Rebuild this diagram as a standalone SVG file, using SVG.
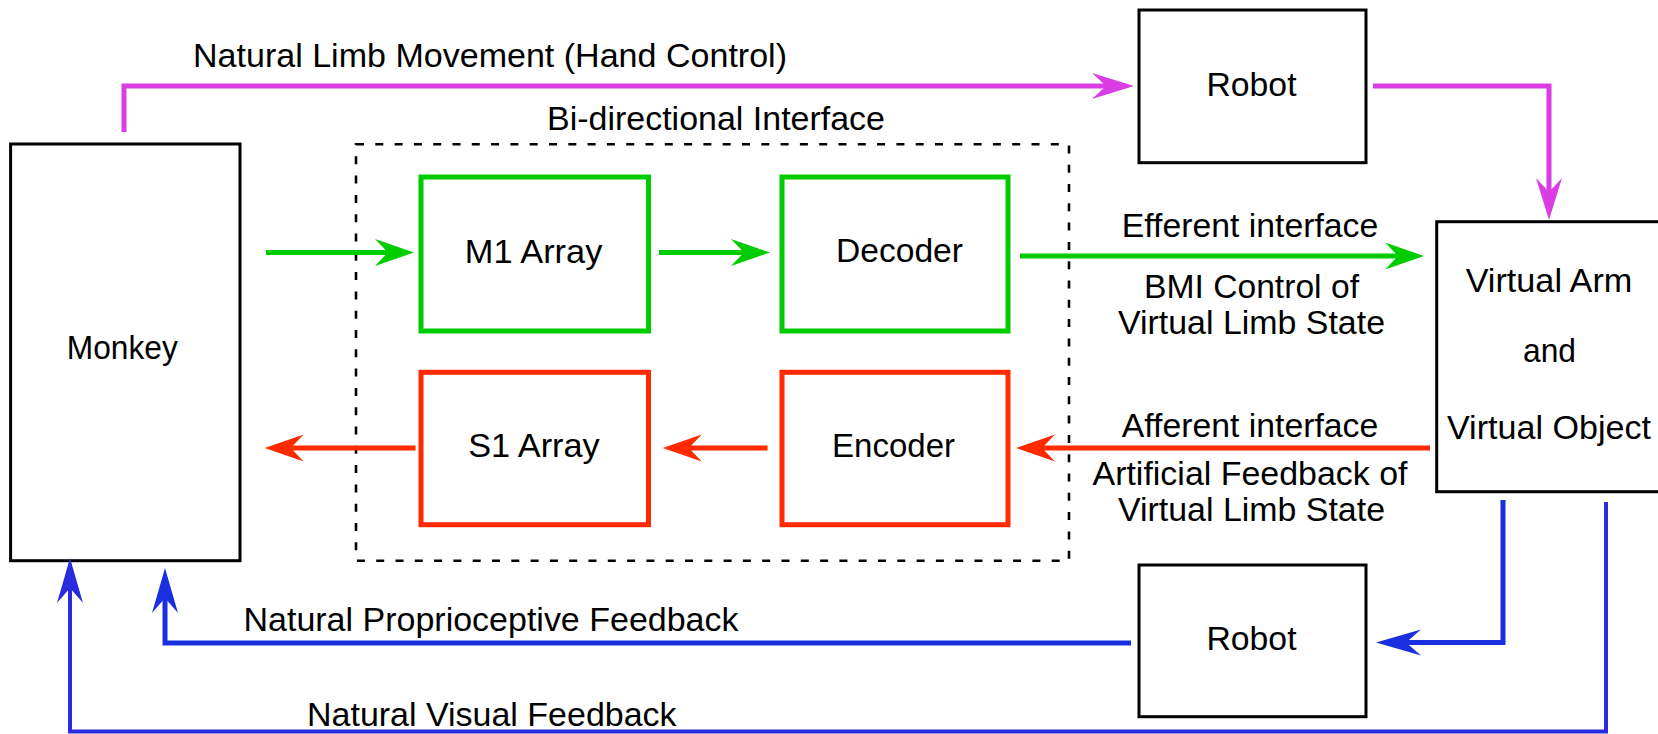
<svg xmlns="http://www.w3.org/2000/svg" width="1658" height="734" viewBox="0 0 1658 734">
<style>
text{font-family:"Liberation Sans",Arial,sans-serif;font-size:33px;fill:#000;text-anchor:middle}
.bk{fill:#fff;stroke:#000;stroke-width:3}
.gn{fill:#fff;stroke:#00cc00;stroke-width:5}
.rd{fill:#fff;stroke:#ff2a00;stroke-width:5}
.dash{fill:none;stroke:#000;stroke-width:2.6;stroke-dasharray:8 11.3}
.c{fill:none;stroke-width:5}
.g{stroke:#00cc00}.r{stroke:#ff2a00}.m{stroke:#d93de3}.b{stroke:#1a30e0}.b2{stroke:#2a2ade}
</style>
<defs>
<marker id="ag" markerUnits="userSpaceOnUse" markerWidth="42" markerHeight="30" viewBox="0 -15 42 30" refX="13" refY="0" orient="auto"><path d="M39,0 L0,-13.5 L13,0 L0,13.5 Z" fill="#00cc00"/></marker>
<marker id="ar" markerUnits="userSpaceOnUse" markerWidth="42" markerHeight="30" viewBox="0 -15 42 30" refX="13" refY="0" orient="auto"><path d="M39,0 L0,-13.5 L13,0 L0,13.5 Z" fill="#ff2a00"/></marker>
<marker id="am" markerUnits="userSpaceOnUse" markerWidth="46" markerHeight="30" viewBox="0 -15 46 30" refX="14" refY="0" orient="auto"><path d="M42,0 L0,-13 L14,0 L0,13 Z" fill="#d93de3"/></marker>
<marker id="ab" markerUnits="userSpaceOnUse" markerWidth="48" markerHeight="30" viewBox="0 -15 48 30" refX="15" refY="0" orient="auto"><path d="M45,0 L0,-13 L15,0 L0,13 Z" fill="#1a30e0"/></marker>
<marker id="ab2" markerUnits="userSpaceOnUse" markerWidth="48" markerHeight="30" viewBox="0 -15 48 30" refX="15" refY="0" orient="auto"><path d="M45,0 L0,-13 L15,0 L0,13 Z" fill="#2a2ade"/></marker>
</defs>

<g id="interface">
<rect class="dash" x="356" y="144.3" width="713" height="416.4"/>
<text x="716" y="130" textLength="338" lengthAdjust="spacingAndGlyphs">Bi-directional Interface</text>
</g>

<g id="monkey">
<rect class="bk" x="10.6" y="144" width="229.4" height="416.7"/>
<text x="122.3" y="359.3" textLength="111" lengthAdjust="spacingAndGlyphs">Monkey</text>
</g>

<g id="m1">
<rect class="gn" x="421" y="177" width="227.5" height="154"/>
<text x="533.6" y="263.3" textLength="137.6" lengthAdjust="spacingAndGlyphs">M1 Array</text>
</g>

<g id="decoder">
<rect class="gn" x="782" y="177" width="226" height="154"/>
<text x="899.5" y="262.3" textLength="127" lengthAdjust="spacingAndGlyphs">Decoder</text>
</g>

<g id="s1">
<rect class="rd" x="421" y="372.3" width="227.5" height="152.4"/>
<text x="534" y="457" textLength="131.5" lengthAdjust="spacingAndGlyphs">S1 Array</text>
</g>

<g id="encoder">
<rect class="rd" x="782" y="372.3" width="226" height="152.4"/>
<text x="893.5" y="457" textLength="123" lengthAdjust="spacingAndGlyphs">Encoder</text>
</g>

<g id="robot-top">
<rect class="bk" x="1139" y="10" width="227" height="152.7"/>
<text x="1251.5" y="95.7" textLength="90" lengthAdjust="spacingAndGlyphs">Robot</text>
</g>

<g id="robot-bottom">
<rect class="bk" x="1139" y="565" width="227" height="151.7"/>
<text x="1251.5" y="649.7" textLength="90" lengthAdjust="spacingAndGlyphs">Robot</text>
</g>

<g id="virtual">
<rect class="bk" x="1436.7" y="221.7" width="240" height="270"/>
<text x="1549" y="291.7" textLength="166.7" lengthAdjust="spacingAndGlyphs">Virtual Arm</text>
<text x="1549.5" y="361.7" textLength="53" lengthAdjust="spacingAndGlyphs">and</text>
<text x="1549" y="439" textLength="204" lengthAdjust="spacingAndGlyphs">Virtual Object</text>
</g>

<g id="connectors">
<path class="c m" d="M124,132 V86 H1106" marker-end="url(#am)"/>
<path class="c m" d="M1373,86 H1549 V192" marker-end="url(#am)"/>
<path class="c g" d="M266,252.5 H388" marker-end="url(#ag)"/>
<path class="c g" d="M659,252.5 H744" marker-end="url(#ag)"/>
<path class="c g" d="M1020,256 H1398" marker-end="url(#ag)"/>
<path class="c r" d="M415.6,448 H290.7" marker-end="url(#ar)"/>
<path class="c r" d="M767.6,448 H688.8" marker-end="url(#ar)"/>
<path class="c r" d="M1430,448 H1042" marker-end="url(#ar)"/>
<path class="c b" d="M1503,500 V642.5 H1406" marker-end="url(#ab)"/>
<path class="c b" d="M1131,643 H165 V598" marker-end="url(#ab)"/>
<path class="c b2" style="stroke-width:4" d="M1606,502 V731.5 H70 V588" marker-end="url(#ab2)"/>
<text x="490" y="67" textLength="594" lengthAdjust="spacingAndGlyphs">Natural Limb Movement (Hand Control)</text>
<text x="1250" y="237" textLength="256.5" lengthAdjust="spacingAndGlyphs">Efferent interface</text>
<text x="1251.5" y="297.7" textLength="215" lengthAdjust="spacingAndGlyphs">BMI Control of</text>
<text x="1251.5" y="334.3" textLength="267" lengthAdjust="spacingAndGlyphs">Virtual Limb State</text>
<text x="1250" y="436.7" textLength="256.5" lengthAdjust="spacingAndGlyphs">Afferent interface</text>
<text x="1250" y="484.7" textLength="315" lengthAdjust="spacingAndGlyphs">Artificial Feedback of</text>
<text x="1251.5" y="521" textLength="267" lengthAdjust="spacingAndGlyphs">Virtual Limb State</text>
<text x="491" y="630.7" textLength="495" lengthAdjust="spacingAndGlyphs">Natural Proprioceptive Feedback</text>
<text x="491.8" y="725.7" textLength="369.6" lengthAdjust="spacingAndGlyphs">Natural Visual Feedback</text>
</g>
</svg>
